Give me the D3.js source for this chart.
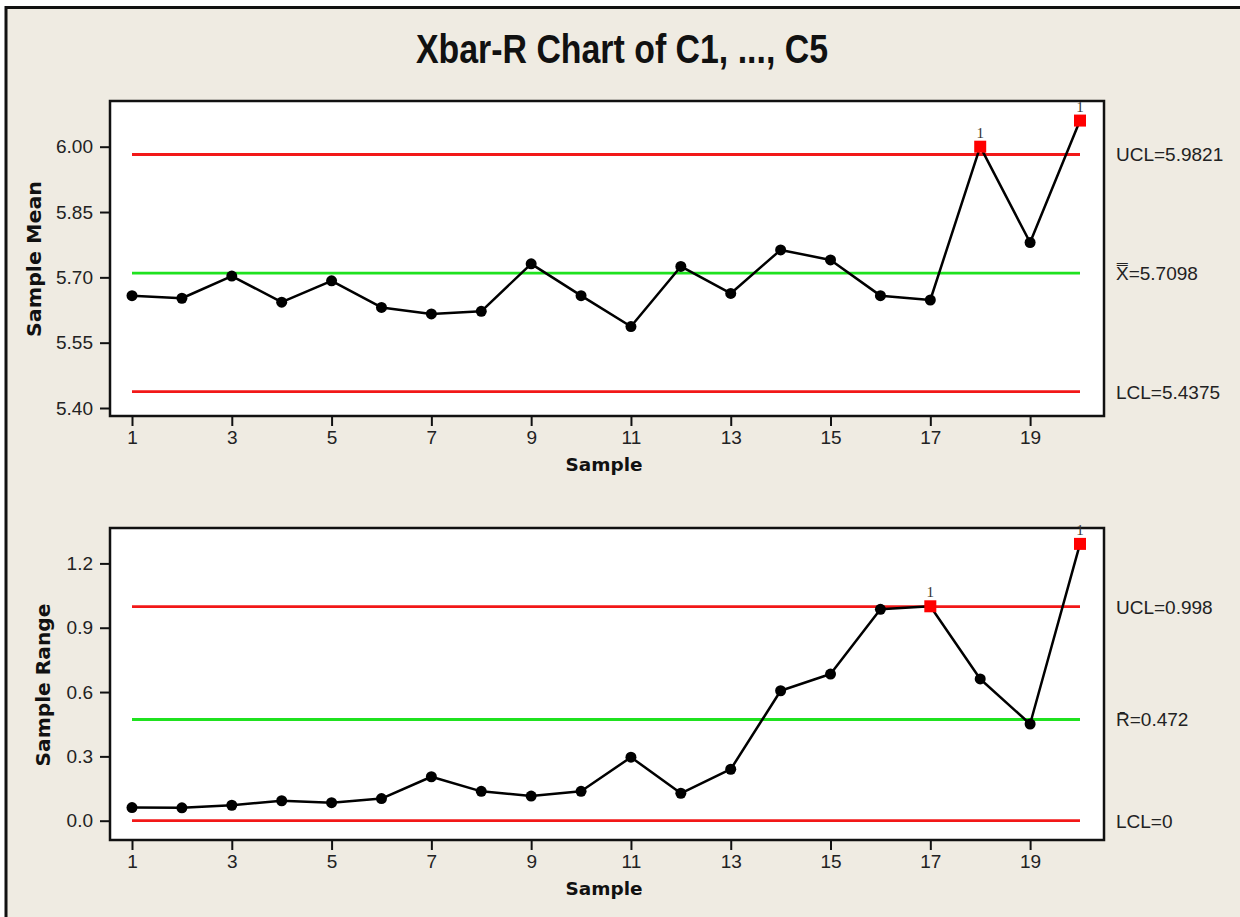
<!DOCTYPE html>
<html>
<head>
<meta charset="utf-8">
<script src="https://cdn.jsdelivr.net/npm/d3@7"></script>
<style>
  html, body { margin: 0; padding: 0; background: #ffffff; overflow: hidden; }
  svg { display: block; }
</style>
</head>
<body>
<svg id="chart" width="1240" height="917"></svg>
<script>
// ---------------- data ----------------
const title = "Xbar-R Chart of C1, ..., C5";
const samples = [1,2,3,4,5,6,7,8,9,10,11,12,13,14,15,16,17,18,19,20];
const sampleTicks = [1,3,5,7,9,11,13,15,17,19];

const sampleMeans = [5.658,5.652,5.703,5.643,5.692,5.631,5.616,5.622,5.731,5.658,
                     5.587,5.725,5.663,5.763,5.740,5.658,5.648,6.000,5.780,6.060];
const meanTicks = [5.40,5.55,5.70,5.85,6.00];
const meanLimitValues = [5.9821, 5.7098, 5.4375];
const meanLimitLabels = ["UCL=5.9821", "X\u033F=5.7098", "LCL=5.4375"];

const sampleRanges = [0.061,0.060,0.072,0.093,0.084,0.103,0.205,0.137,0.115,0.137,
                      0.296,0.128,0.240,0.606,0.684,0.986,1.000,0.661,0.451,1.291];
const rangeTicks = [0.0,0.3,0.6,0.9,1.2];
const rangeLimitValues = [0.998, 0.472, 0];
const rangeLimitLabels = ["UCL=0.998", "R\u0304=0.472", "LCL=0"];

// ---------------- layout / style ----------------
const svg = d3.select("#chart");
const limitColors = ["#f21818", "#1fe21f", "#f21818"];
const regFont = "'Liberation Sans', Arial, sans-serif";
const boldFont = "'DejaVu Sans', Verdana, sans-serif";

svg.append("rect")
  .attr("x", 6).attr("y", 7.5).attr("width", 1260).attr("height", 940)
  .attr("fill", "#efebe2").attr("stroke", "#111").attr("stroke-width", 3);

svg.append("text")
  .attr("x", 622).attr("y", 63)
  .attr("text-anchor", "middle")
  .attr("font-family", "'Liberation Sans Narrow', 'Liberation Sans', Arial, sans-serif")
  .attr("font-weight", "bold")
  .attr("font-size", 41)
  .attr("textLength", 412).attr("lengthAdjust", "spacingAndGlyphs")
  .attr("fill", "#111")
  .text(title);

const x = d3.scaleLinear().domain([1, 20]).range([132, 1080]);

function panel(cfg) {
  const g = svg.append("g");
  const y = d3.scaleLinear().domain(cfg.yDomain).range(cfg.yRange);

  // plot area
  g.append("rect")
    .attr("x", 110).attr("y", cfg.top)
    .attr("width", 1104 - 110).attr("height", cfg.bottom - cfg.top)
    .attr("fill", "#ffffff").attr("stroke", "#111").attr("stroke-width", 2.5);

  // control lines
  g.selectAll(".limit").data(cfg.limits).join("line")
    .attr("x1", x(samples[0])).attr("x2", x(samples[samples.length - 1]))
    .attr("y1", d => y(d)).attr("y2", d => y(d))
    .attr("stroke", (d, i) => limitColors[i]).attr("stroke-width", 2.8);

  // limit labels
  g.selectAll(".limitLabel").data(cfg.limits).join("text")
    .attr("x", 1116).attr("y", d => y(d) + 7)
    .attr("font-family", regFont).attr("font-size", 19)
    .attr("fill", "#222")
    .text((d, i) => cfg.limitLabels[i]);

  // data line
  const pts = samples.map((s, i) => ({ s, v: cfg.values[i] }));
  g.append("path").datum(pts)
    .attr("fill", "none").attr("stroke", "#000").attr("stroke-width", 2.5)
    .attr("stroke-linejoin", "round")
    .attr("d", d3.line().x(d => x(d.s)).y(d => y(d.v)));

  const ucl = cfg.limits[0];
  const inCtl = pts.filter(d => d.v <= ucl);
  const outCtl = pts.filter(d => d.v > ucl);

  g.selectAll(".dot").data(inCtl).join("circle")
    .attr("cx", d => x(d.s)).attr("cy", d => y(d.v)).attr("r", 5.5)
    .attr("fill", "#000");

  g.selectAll(".sq").data(outCtl).join("rect")
    .attr("x", d => x(d.s) - 6).attr("y", d => y(d.v) - 6)
    .attr("width", 12).attr("height", 12)
    .attr("fill", "#ff0000");

  g.selectAll(".flag").data(outCtl).join("text")
    .attr("x", d => x(d.s)).attr("y", d => y(d.v) - 9)
    .attr("text-anchor", "middle")
    .attr("font-family", "'Liberation Serif', 'Times New Roman', serif")
    .attr("font-size", 15).attr("fill", "#333")
    .text("1");

  // axes
  const yAxis = d3.axisLeft(y).tickValues(cfg.ticks).tickFormat(d3.format(cfg.fmt))
    .tickSize(10).tickPadding(7);
  const ya = g.append("g").attr("transform", "translate(110,0)").call(yAxis);
  ya.select(".domain").remove();
  ya.selectAll(".tick line").attr("stroke", "#111").attr("stroke-width", 2);
  ya.selectAll(".tick text").attr("font-family", regFont).attr("font-size", 19).attr("fill", "#222");

  const xAxis = d3.axisBottom(x).tickValues(sampleTicks).tickSize(10).tickPadding(5);
  const xa = g.append("g").attr("transform", `translate(0,${cfg.bottom})`).call(xAxis);
  xa.select(".domain").remove();
  xa.selectAll(".tick line").attr("stroke", "#111").attr("stroke-width", 2);
  xa.selectAll(".tick text").attr("font-family", regFont).attr("font-size", 19).attr("fill", "#222");

  // axis titles
  g.append("text")
    .attr("x", 604).attr("y", cfg.bottom + 55)
    .attr("text-anchor", "middle")
    .attr("font-family", boldFont).attr("font-weight", "bold").attr("font-size", 18)
    .attr("textLength", 77).attr("lengthAdjust", "spacingAndGlyphs")
    .attr("fill", "#111")
    .text("Sample");

  g.append("text")
    .attr("transform", `translate(${cfg.yTitleX},${cfg.yTitleY}) rotate(-90)`)
    .attr("text-anchor", "middle")
    .attr("font-family", boldFont).attr("font-weight", "bold").attr("font-size", 19)
    .attr("textLength", cfg.yTitleLen).attr("lengthAdjust", "spacingAndGlyphs")
    .attr("fill", "#111")
    .text(cfg.yTitle);
}

panel({
  top: 101, bottom: 416,
  yDomain: [5.40, 6.00], yRange: [408, 146.7],
  ticks: meanTicks, fmt: ".2f",
  values: sampleMeans,
  limits: meanLimitValues, limitLabels: meanLimitLabels,
  yTitle: "Sample Mean", yTitleX: 41, yTitleY: 259, yTitleLen: 156
});

panel({
  top: 528, bottom: 840,
  yDomain: [0, 1.2], yRange: [820.7, 563.4],
  ticks: rangeTicks, fmt: ".1f",
  values: sampleRanges,
  limits: rangeLimitValues, limitLabels: rangeLimitLabels,
  yTitle: "Sample Range", yTitleX: 50, yTitleY: 685, yTitleLen: 163
});
</script>
</body>
</html>
